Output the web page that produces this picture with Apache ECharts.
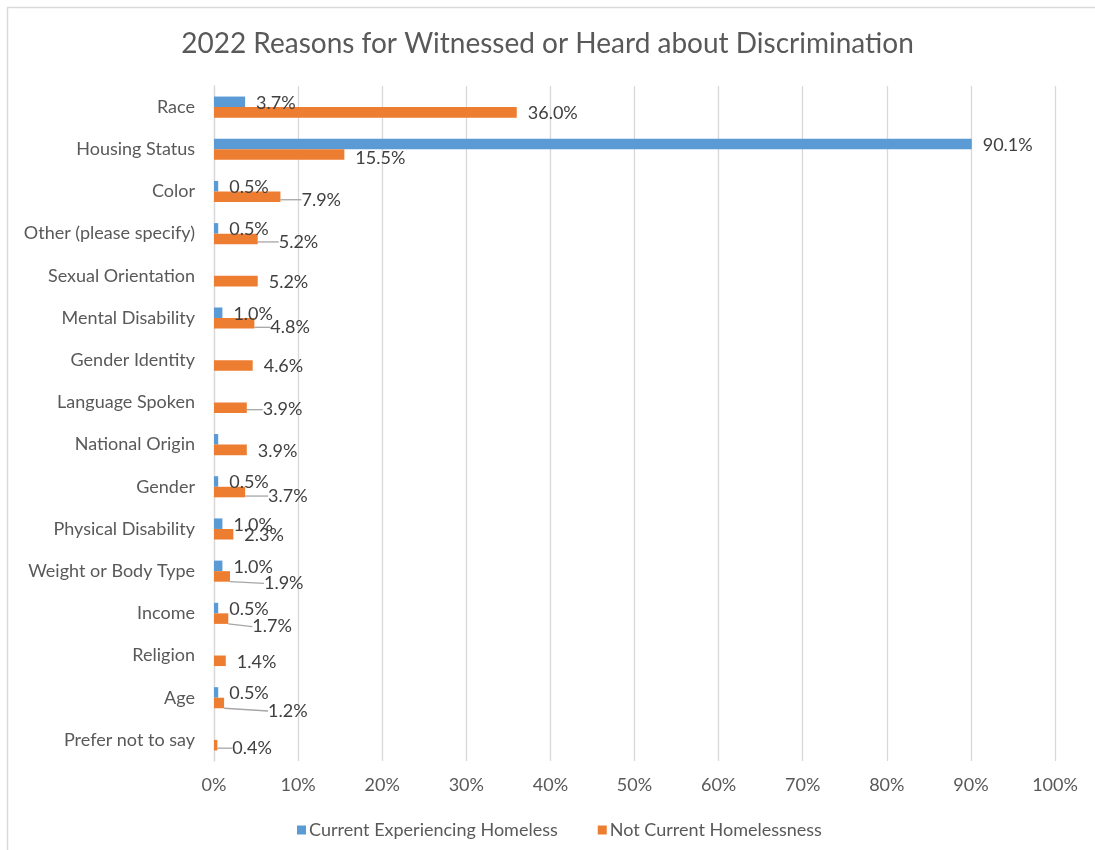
<!DOCTYPE html>
<html>
<head>
<meta charset="utf-8">
<title>2022 Reasons for Witnessed or Heard about Discrimination</title>
<script src="https://cdn.jsdelivr.net/npm/echarts@6/dist/echarts.min.js"></script>
<style>
  html, body { margin: 0; padding: 0; background: #ffffff; }
  #chart { width: 1095px; height: 850px; }
</style>
</head>
<body>
<div id="chart"></div>
<script>
// Reasons, listed top to bottom
const categories = [
  'Race', 'Housing Status', 'Color', 'Other (please specify)', 'Sexual Orientation',
  'Mental Disability', 'Gender Identity', 'Language Spoken', 'National Origin', 'Gender',
  'Physical Disability', 'Weight or Body Type', 'Income', 'Religion', 'Age', 'Prefer not to say'
];

// Share of respondents (%), null where no response was recorded
const currentHomeless = [3.7, 90.1, 0.5, 0.5, null, 1.0, null, null, 0.5, 0.5, 1.0, 1.0, 0.5, null, 0.5, null];
const notCurrentHomeless = [36.0, 15.5, 7.9, 5.2, 5.2, 4.8, 4.6, 3.9, 3.9, 3.7, 2.3, 1.9, 1.7, 1.4, 1.2, 0.4];

const seriesNames = ['Current Experiencing Homeless', 'Not Current Homelessness'];
const xTicks = { min: 0, max: 100, step: 10 };

// Value labels pushed away from their bar (drawn with a leader line)
const labelNudge = {
  1: { 'Housing Status': [0, 3], 'Color': [10, 2], 'Other (please specify)': [10, 2],
       'Mental Disability': [5, 3], 'Language Spoken': [5, 1], 'Gender': [12, 3],
       'Weight or Body Type': [23, 6], 'Income': [13, 7], 'Age': [33, 7], 'Prefer not to say': [4, 2] }
};
const leaderLined = {
  1: ['Color', 'Other (please specify)', 'Mental Disability', 'Language Spoken', 'Gender',
      'Weight or Body Type', 'Income', 'Age', 'Prefer not to say']
};
const unlabeled = { 0: ['National Origin'] };

const textColor = '#595959';
const labelColor = '#404040';
const gridColor = '#d9d9d9';
const fontFamily = 'Lato, "Noto Sans", sans-serif';

function buildData(values, seriesIndex) {
  return values.map((v, i) => {
    const cat = categories[i];
    const item = { value: v };
    if ((unlabeled[seriesIndex] || []).includes(cat)) item.label = { show: false };
    if ((leaderLined[seriesIndex] || []).includes(cat)) {
      item.labelLine = { show: true, lineStyle: { color: '#a6a6a6', width: 1.3 } };
    }
    return item;
  });
}

const chart = echarts.init(document.getElementById('chart'), null, { renderer: 'canvas' });

const baseLabel = {
  show: true,
  position: 'right',
  distance: 11,
  color: labelColor,
  fontFamily: fontFamily,
  fontSize: 18,
  formatter: (p) => (p.value == null ? '' : Number(p.value).toFixed(1) + '%')
};

function nudgeFor(seriesIndex) {
  return (p) => {
    const n = (labelNudge[seriesIndex] || {})[categories[p.dataIndex]];
    return n ? { dx: n[0], dy: n[1] + 1 } : { dy: 1 };
  };
}

const option = {
  backgroundColor: '#ffffff',
  animation: false,
  title: {
    text: '2022 Reasons for Witnessed or Heard about Discrimination',
    left: 'center',
    top: 25,
    textStyle: { color: textColor, fontFamily: fontFamily, fontSize: 28, fontWeight: 'normal' }
  },
  legend: {
    data: seriesNames,
    left: 292,
    top: 816,
    itemWidth: 9,
    itemHeight: 9,
    itemGap: 40,
    icon: 'rect',
    textStyle: { color: textColor, fontFamily: fontFamily, fontSize: 18, padding: [0, 0, 0, -2] }
  },
  grid: { left: 214, right: 40, top: 86, bottom: 89, containLabel: false },
  xAxis: {
    type: 'value',
    min: xTicks.min,
    max: xTicks.max,
    interval: xTicks.step,
    axisLine: { show: false },
    axisTick: { show: false },
    splitLine: { show: true, lineStyle: { color: gridColor, width: 1.3 } },
    axisLabel: {
      color: textColor, fontFamily: fontFamily, fontSize: 18, margin: 15,
      formatter: '{value}%'
    }
  },
  yAxis: {
    type: 'category',
    data: categories,
    inverse: true,
    axisLine: { show: true, lineStyle: { color: gridColor, width: 1.3 } },
    axisTick: { show: false },
    axisLabel: { color: textColor, fontFamily: fontFamily, fontSize: 18, margin: 19 }
  },
  series: [
    {
      name: seriesNames[0],
      type: 'bar',
      data: buildData(currentHomeless, 0),
      itemStyle: { color: '#5b9bd5' },
      barGap: '0%',
      barCategoryGap: '50%',
      label: baseLabel,
      labelLayout: nudgeFor(0)
    },
    {
      name: seriesNames[1],
      type: 'bar',
      data: buildData(notCurrentHomeless, 1),
      itemStyle: { color: '#ed7d31' },
      barGap: '0%',
      barCategoryGap: '50%',
      label: baseLabel,
      labelLayout: nudgeFor(1)
    }
  ],
  graphic: [
    {
      type: 'rect',
      silent: true,
      shape: { x: 7.5, y: 7.5, width: 1100, height: 900 },
      style: { fill: 'none', stroke: gridColor, lineWidth: 1.5 }
    }
  ]
};

chart.setOption(option);
</script>
</body>
</html>
